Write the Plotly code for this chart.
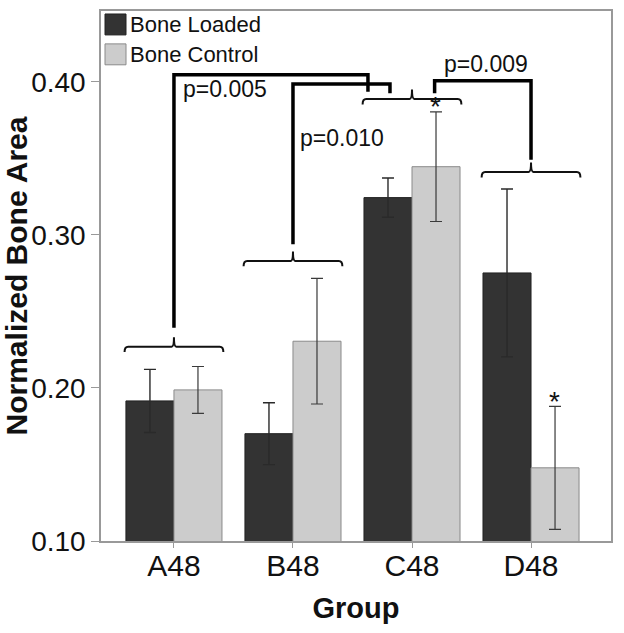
import plotly.graph_objects as go

# ---------------- data ----------------
groups = ["A48", "B48", "C48", "D48"]
loaded = [0.1915, 0.1701, 0.3243, 0.2751]
loaded_err = [0.0206, 0.0202, 0.0128, 0.0548]
control = [0.1987, 0.2305, 0.3445, 0.1478]
control_err = [0.0153, 0.0410, 0.0358, 0.0402]
series_names = ["Bone Loaded", "Bone Control"]
p_labels = ["p=0.005", "p=0.010", "p=0.009"]
y_ticks = [0.10, 0.20, 0.30, 0.40]

FONT = "Arial, 'Liberation Sans', sans-serif"
DARK = "#333333"
LIGHT = "#cccccc"

xpos = list(range(len(groups)))

fig = go.Figure()
fig.add_trace(go.Bar(
    x=xpos, y=loaded, name=series_names[0], showlegend=False,
    marker=dict(color=DARK, line=dict(color="#222222", width=1)),
    error_y=dict(type="data", array=loaded_err, visible=True,
                 color="#2a2a2a", thickness=1.4, width=6),
))
fig.add_trace(go.Bar(
    x=xpos, y=control, name=series_names[1], showlegend=False,
    marker=dict(color=LIGHT, line=dict(color="#8a8a8a", width=1)),
    error_y=dict(type="data", array=control_err, visible=True,
                 color="#3a3a3a", thickness=1.2, width=6),
))

# ---------------- braces and connectors ----------------
HALF = 0.415


def brace(xc, y, drop=0.0035, notch=0.0062):
    xl, xr = xc - HALF, xc + HALF
    r, r2 = 0.03, 0.02
    return (f"M{xl},{y - drop} Q{xl},{y} {xl + r},{y} L{xc - r2},{y} "
            f"Q{xc},{y} {xc},{y + notch} Q{xc},{y} {xc + r2},{y} "
            f"L{xr - r},{y} Q{xr},{y} {xr},{y - drop}")


brace_levels = [0.2269, 0.2829, 0.3887, 0.3410]
for i, lev in enumerate(brace_levels):
    fig.add_shape(type="path", path=brace(xpos[i], lev), xref="x", yref="y",
                  line=dict(color="#111111", width=2))


def connector(x1, y1, ytop, x2, y2):
    return f"M{x1},{y1} L{x1},{ytop} L{x2},{ytop} L{x2},{y2}"


connectors = [
    (xpos[0], 0.2393, 0.4045, 1.630, 0.3935),
    (xpos[1], 0.2939, 0.3985, 1.815, 0.3924),
    (2.19, 0.3924, 0.4006, xpos[3], 0.3490),
]
for c in connectors:
    fig.add_shape(type="path", path=connector(*c), xref="x", yref="y",
                  line=dict(color="#000000", width=3.5))

annots = []
p_pos = [(0.056, 0.3954), (1.042, 0.3631), (2.25, 0.4113)]
for txt, (ax_, ay_) in zip(p_labels, p_pos):
    annots.append(dict(x=ax_, y=ay_, xref="x", yref="y", text=txt,
                       showarrow=False, xanchor="left", yanchor="middle",
                       font=dict(family=FONT, size=23, color="#111111")))

# asterisks above the control error bars of C48 and D48
for i in (2, 3):
    annots.append(dict(x=xpos[i] + 0.2, y=control[i] + control_err[i],
                       xref="x", yref="y", text="*", showarrow=False,
                       xanchor="center", yanchor="middle", yshift=5,
                       font=dict(family=FONT, size=28, color="#111111")))

# ---------------- manual legend ----------------
legend_colors = [(DARK, "#222222"), (LIGHT, "#8a8a8a")]
for k, (name, (fc, lc)) in enumerate(zip(series_names, legend_colors)):
    y0 = 12 + k * 30
    fig.add_shape(type="rect", xref="paper", yref="paper",
                  x0=(105 - 101) / 510, x1=(126 - 101) / 510,
                  y0=(541 - (y0 + 21)) / 532, y1=(541 - y0) / 532,
                  fillcolor=fc, line=dict(color=lc, width=1))
    annots.append(dict(x=(128 - 101) / 510, y=(541 - (y0 + 10.5)) / 532,
                       xref="paper", yref="paper", text=name, showarrow=False,
                       xanchor="left", yanchor="middle",
                       font=dict(family=FONT, size=22, color="#111111")))

fig.update_layout(
    width=624, height=633,
    margin=dict(l=101, r=13, t=9, b=92),
    paper_bgcolor="white", plot_bgcolor="white",
    barmode="group", bargap=0.193, bargroupgap=0,
    font=dict(family=FONT, color="#111111"),
    annotations=annots,
    showlegend=False,
)
fig.update_xaxes(
    range=[-0.613, 3.672], tickvals=xpos, ticktext=groups,
    showgrid=False, zeroline=False,
    showline=True, linecolor="#999999", linewidth=1.5, mirror=True,
    ticks="outside", ticklen=5, tickcolor="#999999",
    ticklabelstandoff=-8,
    tickfont=dict(family=FONT, size=30, color="#111111"),
    title=dict(text="<b>Group</b>", font=dict(family=FONT, size=29, color="#111111"), standoff=17),
)
fig.update_yaxes(
    range=[0.10, 0.4462], tickvals=y_ticks, tickformat=".2f",
    showgrid=False, zeroline=False,
    showline=True, linecolor="#999999", linewidth=1.5, mirror=True,
    ticks="outside", ticklen=8, tickcolor="#999999",
    tickfont=dict(family=FONT, size=28, color="#111111"),
    title=dict(text="<b>Normalized Bone Area</b>", font=dict(family=FONT, size=30, color="#111111"), standoff=0),
)

fig.write_html(
    "out.html",
    config={"displayModeBar": False},
    post_script="document.body.style.margin='0';document.body.style.overflow='hidden';",
)
